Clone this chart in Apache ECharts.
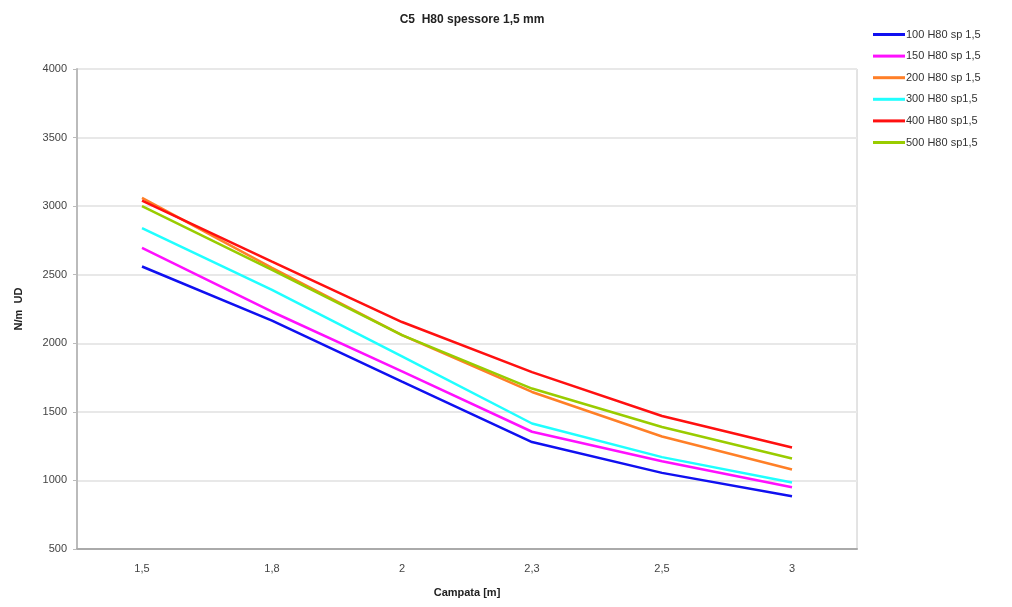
<!DOCTYPE html>
<html>
<head>
<meta charset="utf-8">
<script src="https://cdn.jsdelivr.net/npm/echarts@6/dist/echarts.min.js"></script>
<style>html,body{margin:0;padding:0;background:#fff}#c{width:1012px;height:607px}</style>
</head>
<body>
<div id="c"></div>
<script>
const categories = ['1,5', '1,8', '2', '2,3', '2,5', '3'];
const seriesNames = ['100 H80 sp 1,5', '150 H80 sp 1,5', '200 H80 sp 1,5', '300 H80 sp1,5', '400 H80 sp1,5', '500 H80 sp1,5'];
const s100 = [2560, 2165, 1720, 1280, 1055, 885];
const s150 = [2695, 2230, 1795, 1355, 1140, 950];
const s200 = [3060, 2550, 2060, 1645, 1320, 1080];
const s300 = [2840, 2390, 1905, 1415, 1170, 985];
const s400 = [3040, 2595, 2155, 1790, 1470, 1240];
const s500 = [3000, 2535, 2060, 1670, 1390, 1160];
const colors = ['#1010f0', '#ff10ff', '#ff7f27', '#20ffff', '#ff1010', '#99cc00'];
const allData = [s100, s150, s200, s300, s400, s500];

const chart = echarts.init(document.getElementById('c'));
chart.setOption({
  animation: false,
  title: {
    text: 'C5  H80 spessore 1,5 mm',
    left: 467, top: 9, textAlign: 'center',
    textStyle: { fontFamily: 'Liberation Sans, Arial', fontSize: 12, fontWeight: 'bold', color: '#222' }
  },
  legend: {
    orient: 'vertical', left: 868, top: 24, itemGap: 10.6,
    itemWidth: 32, itemHeight: 3, icon: 'rect',
    textStyle: { fontFamily: 'Liberation Sans, Arial', fontSize: 11, color: '#333', padding: [0, 0, 0, -4] },
    data: seriesNames
  },
  grid: { left: 77, top: 69, width: 780, height: 480, show: true, borderColor: '#c8c8c8', borderWidth: 1 },
  xAxis: {
    type: 'category', data: categories, boundaryGap: true,
    name: 'Campata [m]', nameLocation: 'middle', nameGap: 38,
    nameTextStyle: { fontFamily: 'Liberation Sans, Arial', fontSize: 11, fontWeight: 'bold', color: '#222' },
    axisLine: { lineStyle: { color: '#aaa', width: 2 } },
    axisTick: { lineStyle: { color: '#bbb' }, length: 4 },
    axisLabel: { fontFamily: 'Liberation Sans, Arial', fontSize: 11, color: '#444', margin: 14 }
  },
  yAxis: {
    type: 'value', min: 500, max: 4000, interval: 500,
    name: 'N/m  UD', nameLocation: 'middle', nameGap: 53,
    nameTextStyle: { fontFamily: 'Liberation Sans, Arial', fontSize: 11, fontWeight: 'bold', color: '#222' },
    axisLine: { show: true, lineStyle: { color: '#bbb', width: 2 } },
    axisTick: { show: true, lineStyle: { color: '#bbb' }, length: 4 },
    axisLabel: { fontFamily: 'Liberation Sans, Arial', fontSize: 11, color: '#444', margin: 10, formatter: v => String(v) },
    splitLine: { lineStyle: { color: '#e8e8e8', width: 2 } }
  },
  series: seriesNames.map((n, i) => ({
    name: n, type: 'line', data: allData[i],
    symbol: 'none', lineStyle: { width: 2.5, color: colors[i] }, itemStyle: { color: colors[i] }
  }))
});
</script>
</body>
</html>
